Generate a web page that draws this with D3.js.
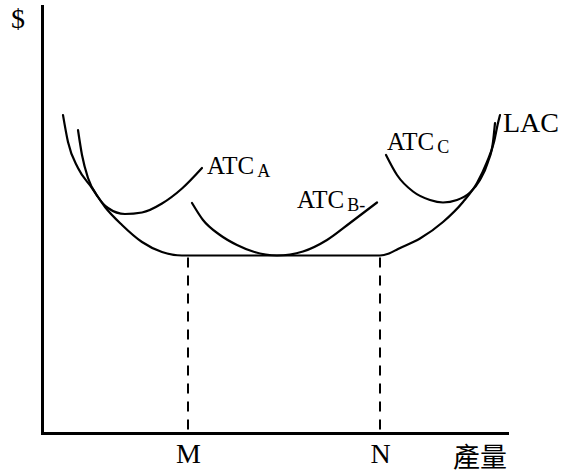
<!DOCTYPE html>
<html>
<head>
<meta charset="utf-8">
<script src="https://cdn.jsdelivr.net/npm/d3@7"></script>
<style>
body { margin: 0; background: #fff; }
svg { display: block; }
.curve { fill: none; stroke: #000; stroke-width: 2.2px; stroke-linecap: round; }
.guide { stroke: #000; stroke-width: 2px; stroke-dasharray: 10 8; }
.axis path { stroke: #000; stroke-width: 3px; }
.axis text { font-family: "Liberation Serif", "Times New Roman", serif; font-size: 28px; fill: #000; }
.lbl { font-family: "Liberation Serif", "Times New Roman", serif; font-size: 25px; fill: #000; }
.big { font-size: 28px; }
.sub { font-size: 18px; }
.cjk { font-family: "Noto Sans CJK TC", "Noto Sans CJK SC", sans-serif; font-size: 27px; fill: #000; }
</style>
</head>
<body>
<svg id="chart" width="562" height="474"></svg>
<script>
// readings, [quantity, cost] in arbitrary units
var lac = [[21, 318], [26, 291], [36, 265], [50, 245], [63, 226], [80, 208], [100, 191],
           [120, 181], [140, 177.5], [146, 177.5], [338, 177.5], [347, 179.5], [356, 184],
           [378, 194.5], [401, 211], [421, 231], [435, 250], [445, 271], [452, 291], [456, 310], [458, 318]];
var atcA = [[36, 303], [40, 278], [46, 255], [56, 236], [66, 225], [83, 219], [100, 220.5],
            [120, 229.5], [140, 244.5], [160, 265]];
var atcB = [[150, 230], [161, 213], [178, 198], [195, 188], [211, 181.5], [235, 177.5],
            [261, 181.5], [285, 193], [308, 210], [335, 230.5]];
var atcC = [[344, 278], [355, 258], [371, 241.5], [388, 233], [401, 230.5], [415, 233],
            [428, 240.5], [438, 253], [446, 271], [451, 291], [453, 310]];

var qTicks = [146, 338];
var tickLabels = ["M", "N"];
var yLabel = "$";
var xLabel = "產量";

var svg = d3.select('#chart');

var x = d3.scaleLinear().domain([0, 465]).range([42, 507]);
var y = d3.scaleLinear().domain([0, 427]).range([433, 6]);

var line = d3.line()
    .x(function(d) { return x(d[0]); })
    .y(function(d) { return y(d[1]); })
    .curve(d3.curveMonotoneX);

// dashed drop lines at M and N
svg.selectAll('.guide')
    .data(qTicks)
    .enter()
    .append('line')
    .attr('class', 'guide')
    .attr('x1', function(d) { return x(d); })
    .attr('x2', function(d) { return x(d); })
    .attr('y1', y(lac[9][1]) + 2)
    .attr('y2', y(0));

var curves = [
  {pts: lac, name: "LAC"},
  {pts: atcA, name: "ATC", sub: "A"},
  {pts: atcB, name: "ATC", sub: "B-"},
  {pts: atcC, name: "ATC", sub: "C"}
];

svg.selectAll('.curve')
    .data(curves)
    .enter()
    .append('path')
    .attr('class', 'curve')
    .attr('d', function(d) { return line(d.pts); });

// axes
svg.append('g')
    .attr('class', 'axis')
    .attr('transform', 'translate(0,' + y(0) + ')')
    .call(d3.axisBottom(x).tickValues(qTicks)
          .tickFormat(function(d, i) { return tickLabels[i]; })
          .tickSize(0).tickPadding(10).tickSizeOuter(0));

svg.append('g')
    .attr('class', 'axis')
    .attr('transform', 'translate(' + x(0) + ',0)')
    .call(d3.axisLeft(y).tickValues([]).tickSizeOuter(0));

svg.selectAll('.axis .domain').attr('stroke-linecap', 'square');

// curve labels, placed off the curve ends
var labelAt = [
  function(p) { var e = p[p.length - 1]; return [x(e[0]) + 3, y(e[1]) + 17]; },
  function(p) { var e = p[p.length - 1]; return [x(e[0]) + 5, y(e[1]) + 6]; },
  function(p) { var e = p[p.length - 1]; return [x(e[0]) - 80, y(e[1]) + 5]; },
  function(p) { var e = p[0]; return [x(e[0]) + 1, y(e[1]) - 5]; }
];

curves.forEach(function(c, i) {
  var pos = labelAt[i](c.pts);
  var t = svg.append('text')
      .attr('class', c.sub ? 'lbl' : 'lbl big')
      .attr('x', pos[0])
      .attr('y', pos[1]);
  t.append('tspan').text(c.name);
  if (c.sub) {
    t.append('tspan').attr('class', 'sub').attr('dx', 3).attr('dy', 3).text(c.sub);
  }
});

svg.append('text')
    .attr('class', 'lbl big')
    .attr('x', x(0) - 31)
    .attr('y', y(427) + 22)
    .text(yLabel);

svg.append('text')
    .attr('class', 'cjk')
    .attr('text-anchor', 'end')
    .attr('x', x(465))
    .attr('y', y(0) + 34)
    .text(xLabel);
</script>
</body>
</html>
